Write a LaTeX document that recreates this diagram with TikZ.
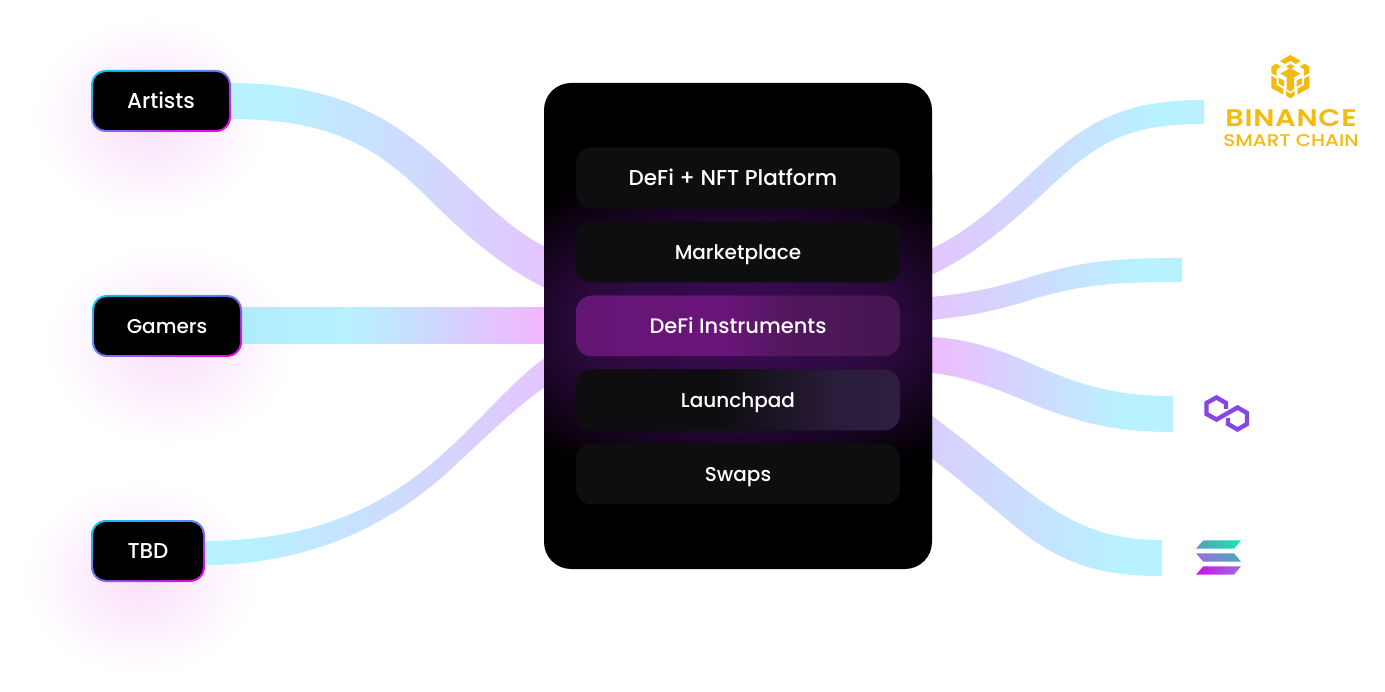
\documentclass[tikz,border=0pt]{standalone}
\usepackage{fontspec}
\setmainfont{Poppins Medium}
\newfontfamily\bscbold[LetterSpace=3,FakeStretch=1.2]{Poppins SemiBold}
\newfontfamily\bsclight[FakeStretch=1.17]{Poppins Medium}
\usetikzlibrary{calc}
\definecolor{bandblue}{HTML}{B8F1FF}
\definecolor{bandlilac}{HTML}{E4C5FF}
\definecolor{bandorchid}{HTML}{EEBBFF}
\definecolor{bandperi}{HTML}{DACEFF}
\definecolor{rowgrey}{HTML}{0E0E10}
\definecolor{bnb}{HTML}{F3BA0F}
\definecolor{matic}{HTML}{8247E5}
\definecolor{edgecyan}{HTML}{14BEF2}
\definecolor{edgeblue}{HTML}{6E78F8}
\definecolor{edgemag}{HTML}{E30DEA}
\definecolor{solaL}{HTML}{5A9FC0}
\definecolor{solaR}{HTML}{14E8A8}
\definecolor{solbL}{HTML}{9A6FE0}
\definecolor{solbR}{HTML}{4AA8C0}
\definecolor{solcL}{HTML}{CC10EE}
\definecolor{solcR}{HTML}{9A70DC}
\definecolor{glowa}{HTML}{F8E0FA}
\definecolor{glowb}{HTML}{FBEAFB}
\definecolor{glowc}{HTML}{FDF7FE}
\definecolor{corea}{HTML}{3E0C58}
\definecolor{coreb}{HTML}{2C093E}
\definecolor{gama}{HTML}{AEECFC}
\definecolor{gamb}{HTML}{D0D6FF}
\definecolor{gamc}{HTML}{F4B4FF}
\definecolor{hota}{HTML}{641674}
\definecolor{hotb}{HTML}{6A157A}
\definecolor{hotc}{HTML}{52175E}
\definecolor{hotd}{HTML}{461650}
\definecolor{warma}{HTML}{2A1C3A}
\definecolor{warmb}{HTML}{2E1E40}
\pgfdeclareradialshading{softglow}{\pgfpointorigin}{%
 color(0bp)=(glowa);
 color(6bp)=(glowb);
 color(12bp)=(glowc);
 color(17bp)=(white);color(50bp)=(white)}
\pgfdeclareradialshading{coreglow}{\pgfpointorigin}{%
 color(0bp)=(corea);
 color(9bp)=(coreb);
 color(17bp)=(black);color(50bp)=(black)}
\pgfdeclarehorizontalshading{gamerband}{100bp}{%
 color(0bp)=(gama);color(25bp)=(gama);
 color(43bp)=(bandblue);
 color(57.5bp)=(gamb);
 color(75bp)=(gamc);color(100bp)=(gamc)}
\pgfdeclarehorizontalshading{hotrow}{100bp}{%
 color(0bp)=(hota);color(25bp)=(hota);
 color(47.5bp)=(hotb);
 color(57.5bp)=(hotc);
 color(75bp)=(hotd);color(100bp)=(hotd)}
\pgfdeclarehorizontalshading{warmrow}{100bp}{%
 color(0bp)=(rowgrey);color(47.5bp)=(rowgrey);
 color(65bp)=(warma);
 color(75bp)=(warmb);color(100bp)=(warmb)}
\pgfdeclarehorizontalshading{flowin}{100bp}{%
 color(0bp)=(bandblue);color(32bp)=(bandblue);
 color(75bp)=(bandlilac);color(100bp)=(bandlilac)}
\pgfdeclarehorizontalshading{flowlilac}{100bp}{%
 color(0bp)=(bandlilac);color(25bp)=(bandlilac);
 color(66bp)=(bandblue);color(100bp)=(bandblue)}
\pgfdeclarehorizontalshading{floworchid}{100bp}{%
 color(0bp)=(bandorchid);color(25bp)=(bandorchid);
 color(64bp)=(bandblue);color(100bp)=(bandblue)}
\pgfdeclarehorizontalshading{flowperi}{100bp}{%
 color(0bp)=(bandperi);color(25bp)=(bandperi);
 color(66bp)=(bandblue);color(100bp)=(bandblue)}
\pgfdeclarelayer{front}\pgfsetlayers{main,front}
\tikzset{
 persona/.style={rectangle,rounded corners=15pt,inner sep=0pt,outer sep=0pt,
   minimum height=62pt,text=white,text height=15pt,text depth=0pt,
   top color=edgecyan,bottom color=edgemag,middle color=edgeblue,shading angle=24,
   path picture={\fill[black,rounded corners=13pt]
     ([shift={(2pt,2pt)}]path picture bounding box.south west) rectangle
     ([shift={(-2pt,-2pt)}]path picture bounding box.north east);}},
 rowbox/.style={rectangle,rounded corners=16pt,inner sep=0pt,outer sep=0pt,
   minimum width=324pt,minimum height=61pt,text=white,fill=rowgrey,
   text height=15pt,text depth=0pt},
 flow/.style={draw=none,shade},
}
\newcommand{\labelsize}[1]{\fontsize{#1}{24}\selectfont}
\begin{document}
\begin{tikzpicture}[x=1pt,y=-1pt]
\useasboundingbox (0,0) rectangle (1385,692);
% glows
\begin{scope}[blend mode=multiply]
\shade[shading=softglow] (150,118) ellipse [x radius=175pt,y radius=150pt];
\shade[shading=softglow] (170,345) ellipse [x radius=185pt,y radius=150pt];
\shade[shading=softglow] (140,578) ellipse [x radius=175pt,y radius=145pt];
\end{scope}
% free ends
\coordinate (endat) at (1204,100);\coordinate (endab) at (1204,124);
\coordinate (endbt) at (1182,258);\coordinate (endbb) at (1182,282);
\coordinate (endct) at (1173,396);\coordinate (endcb) at (1173,432);
\coordinate (enddt) at (1162,540);\coordinate (enddb) at (1162,576);
\begin{pgfonlayer}{front}
\node[persona,minimum width=140pt,font=\labelsize{21.5}] (artists) at (161,101) {Artists};
\node[persona,minimum width=150pt,font=\labelsize{20}] (gamers) at (167,326) {Gamers};
\node[persona,minimum width=114pt,font=\labelsize{21.5}] (tbd) at (148,551) {TBD};
\node[rectangle,rounded corners=27pt,fill=black,inner sep=0pt,outer sep=0pt,
  minimum width=388pt,minimum height=486pt,
  path picture={\shade[shading=coreglow] (path picture bounding box.center) ellipse [x radius=430pt,y radius=170pt];}]
  (core) at (738,326) {};
\node[rowbox,font=\labelsize{21.5}] (rowa) at (738,178) {DeFi + NFT Platform\hspace{10pt}\mbox{}};
\node[rowbox,font=\labelsize{20}] (rowb) at (738,252) {Marketplace};
\node[rowbox,shade,shading=hotrow,font=\labelsize{21}] (rowc) at (738,326) {DeFi Instruments};
\node[rowbox,shade,shading=warmrow,font=\labelsize{20}] (rowd) at (738,400) {Launchpad};
\node[rowbox,font=\labelsize{20}] (rowe) at (738,474) {Swaps};
\end{pgfonlayer}
% bands
\path[flow,shading=flowin]
 ($(artists.east)+(-2,-18)$) .. controls (340,83) and (395,120) .. (450,170)
 .. controls (490,207) and (510,228) .. ($(core.west)+(1,-79)$)
 -- ($(core.west)+(1,-38)$) .. controls (505,268) and (470,240) .. (425,195)
 .. controls (370,140) and (320,119) .. ($(artists.east)+(-2,18)$) -- cycle;
\path[flow,shading=gamerband]
 ($(gamers.east)+(-2,-18)$) rectangle ($(core.west)+(1,18)$);
\path[flow,shading=flowin]
 ($(tbd.east)+(-2,-10)$) .. controls (300,541) and (370,515) .. (430,465)
 .. controls (475,428) and (510,382) .. ($(core.west)+(1,32)$)
 -- ($(core.west)+(1,61)$) .. controls (515,408) and (490,433) .. (450,470)
 .. controls (390,525) and (310,565) .. ($(tbd.east)+(-2,14)$) -- cycle;
\path[flow,shading=flowlilac]
 ($(core.east)+(-1,-77)$) .. controls (975,228) and (1005,197) .. (1040,165)
 .. controls (1090,118) and (1130,100) .. (endat) -- (endab)
 .. controls (1130,124) and (1100,140) .. (1050,187)
 .. controls (1015,220) and (975,255) .. ($(core.east)+(-1,-51)$) -- cycle;
\path[flow,shading=flowlilac]
 ($(core.east)+(-1,-29)$) .. controls (975,293) and (1005,285) .. (1030,277)
 .. controls (1080,262) and (1110,258) .. (endbt) -- (endbb)
 .. controls (1110,282) and (1080,285) .. (1030,300)
 .. controls (1005,308) and (975,316) .. ($(core.east)+(-1,-6)$) -- cycle;
\path[flow,shading=floworchid]
 ($(core.east)+(-1,11)$) .. controls (970,339) and (1000,350) .. (1030,363)
 .. controls (1075,383) and (1110,396) .. (endct) -- (endcb)
 .. controls (1110,432) and (1075,421) .. (1030,403)
 .. controls (1000,390) and (965,376) .. ($(core.east)+(-1,47)$) -- cycle;
\path[flow,shading=flowperi]
 ($(core.east)+(-1,89)$) .. controls (965,440) and (1000,470) .. (1030,493)
 .. controls (1075,527) and (1110,540) .. (enddt) -- (enddb)
 .. controls (1115,576) and (1075,570) .. (1030,538)
 .. controls (1000,515) and (965,483) .. ($(core.east)+(-1,132)$) -- cycle;
% Binance logo
\begin{scope}[shift={(1180,40)},x=0.3333pt,y=-0.3333pt]
\fill[bnb] (331,45) -- (362,63) -- (347,72) -- (331,62) -- (315,72) -- (300,63) -- cycle;
\fill[bnb] (331,72) -- (344,80) -- (331,88) -- (318,80) -- cycle;
\fill[bnb] (288,71) -- (303,80) -- (290,88) -- (290,108) -- (274,99) -- (274,80) -- cycle;
\fill[bnb] (374,71) -- (359,80) -- (372,88) -- (372,108) -- (388,99) -- (388,80) -- cycle;
\fill[bnb] (274,107) -- (290,116) -- (290,135) -- (310,147) -- (310,164) -- (274,144) -- cycle;
\fill[bnb] (388,107) -- (372,116) -- (372,135) -- (352,147) -- (352,164) -- (388,144) -- cycle;
\fill[bnb] (318,153) -- (331,161) -- (344,153) -- (344,167) -- (331,175) -- (318,167) -- cycle;
\fill[bnb] (331,84) -- (361,101) -- (342,112) -- (342,148) -- (331,155) -- (320,148) -- (320,112) -- (301,101) -- cycle;
\fill[bnb] (296,113) -- (312,122) -- (312,140) -- (296,131) -- cycle;
\fill[bnb] (366,113) -- (350,122) -- (350,140) -- (366,131) -- cycle;
\end{scope}
\node[inner sep=0pt,text=bnb,anchor=center,font=\bscbold\fontsize{24}{26}\selectfont] (bscname) at (1291,118.5) {BINANCE};
\node[inner sep=0pt,text=bnb,anchor=center,font=\bsclight\fontsize{17}{20}\selectfont] (bscsub) at (1291,141) {SMART CHAIN};
% Polygon logo
\draw[matic,line width=4.4pt,miter limit=4]
 (1226,409) -- (1226,403) -- (1216.5,397.5) -- (1206.5,403) -- (1206.5,414) -- (1216.5,419.5)
 -- (1237.5,407.5) -- (1247,413) -- (1247,424) -- (1237.5,429.5) -- (1228,424) -- (1228,418);
% Solana logo
\shade[left color=solaL,right color=solaR]
 (1203.3,540.3) -- (1241,540.3) -- (1234,548.7) -- (1196,548.7) -- cycle;
\shade[left color=solbL,right color=solbR]
 (1196,553.3) -- (1234,553.3) -- (1241,561.7) -- (1203.3,561.7) -- cycle;
\shade[left color=solcL,right color=solcR]
 (1203.3,566.3) -- (1241,566.3) -- (1234,574.7) -- (1196,574.7) -- cycle;
\end{tikzpicture}
\end{document}
